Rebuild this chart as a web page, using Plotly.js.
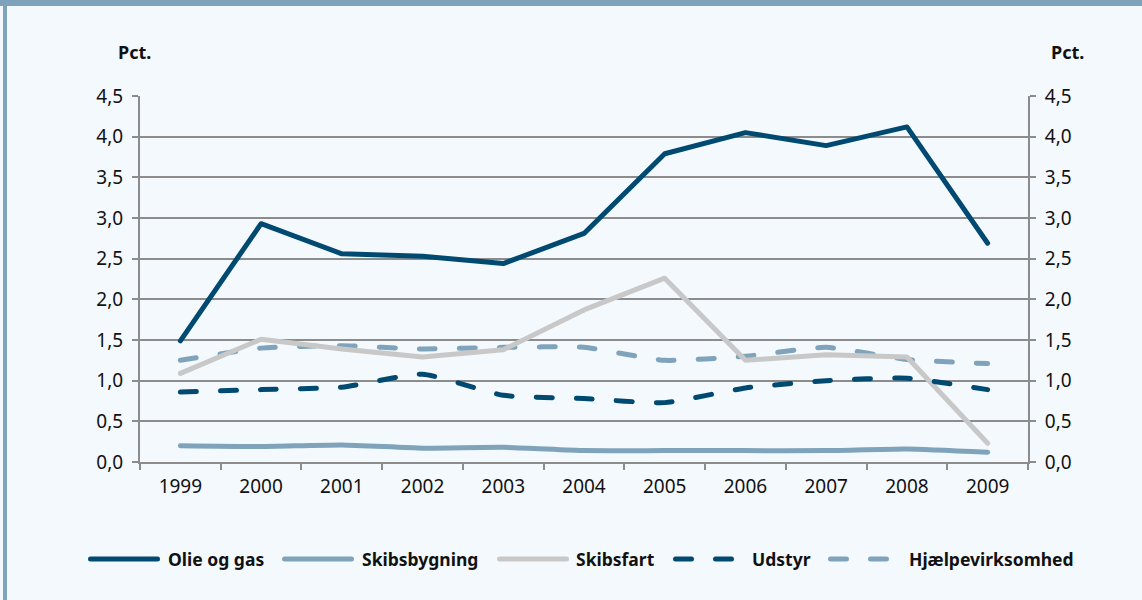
<!DOCTYPE html>
<html>
<head>
<meta charset="utf-8">
<script src="https://cdn.plot.ly/plotly-3.0.1.min.js"></script>
<style>
  html, body { margin: 0; padding: 0; background: #F4F9FD; }
  #chart { width: 1142px; height: 600px; }
  .js-line, .shapelayer path { stroke-linecap: round !important; stroke-linejoin: round !important; }
</style>
</head>
<body>
<div id="chart"></div>
<script>
// ---- data ----
const years = ["1999","2000","2001","2002","2003","2004","2005","2006","2007","2008","2009"];
const olieOgGas       = [1.49, 2.93, 2.56, 2.53, 2.44, 2.81, 3.79, 4.05, 3.89, 4.12, 2.69];
const skibsbygning    = [0.20, 0.19, 0.21, 0.17, 0.18, 0.14, 0.14, 0.14, 0.14, 0.16, 0.12];
const skibsfart       = [1.09, 1.51, 1.39, 1.29, 1.38, 1.87, 2.26, 1.25, 1.32, 1.29, 0.23];
const udstyr          = [0.86, 0.89, 0.92, 1.08, 0.82, 0.78, 0.73, 0.91, 1.00, 1.03, 0.89];
const hjaelpevirksomhed = [1.25, 1.40, 1.43, 1.39, 1.41, 1.41, 1.25, 1.30, 1.41, 1.26, 1.21];
const seriesNames = ["Olie og gas","Skibsbygning","Skibsfart","Udstyr","Hjælpevirksomhed"];
const yTicks = [0, 0.5, 1, 1.5, 2, 2.5, 3, 3.5, 4, 4.5];
const unitLabel = "Pct.";

// ---- styling ----
const DARK = "#004A72", LIGHT = "#7FA3BA", GREY = "#C8C8C8";
const AXIS = "#8C8C8C";
const BG = "#F4F9FD";
const FONT = "Noto Sans, Open Sans, sans-serif";
const L = 140, R = 1028, T = 96, B = 462;
const px = x => (x - L) / (R - L);
const py = y => (B - y) / (B - T);
const DASH = "16px,24px";

const styles = [
  {color: DARK,  dash: "solid", shape: "linear"},
  {color: LIGHT, dash: "solid", shape: "spline"},
  {color: GREY,  dash: "solid", shape: "linear"},
  {color: DARK,  dash: DASH,    shape: "spline"},
  {color: LIGHT, dash: DASH,    shape: "spline"}
];
const values = [olieOgGas, skibsbygning, skibsfart, udstyr, hjaelpevirksomhed];

// draw order: light first so dark lines on top
const order = [4, 2, 1, 3, 0];
const traces = order.map(i => ({
  type: "scatter", mode: "lines", x: years, y: values[i], name: seriesNames[i],
  line: {color: styles[i].color, width: 5, dash: styles[i].dash, shape: styles[i].shape, smoothing: 0.5},
  showlegend: false, hoverinfo: "x+y+name"
}));
traces.push({type: "scatter", mode: "lines", x: years, y: olieOgGas, yaxis: "y2",
  line: {color: "rgba(0,0,0,0)", width: 0}, showlegend: false, hoverinfo: "skip"});

// ---- custom legend ----
const legendY = py(559);
const legendItems = [
  {x0: 90.5, x1: 157.5, tx: 166},
  {x0: 284.5, x1: 351.5, tx: 360},
  {x0: 499.5, x1: 566.5, tx: 574},
  {x0: 675.5, x1: 732.5, tx: 750},
  {x0: 830.5, x1: 888.5, tx: 907}
];
const shapes = [
  // top bar and left strip
  {type: "rect", xref: "paper", yref: "paper", x0: px(0), x1: px(1142), y0: py(6), y1: py(0),
   fillcolor: LIGHT, line: {width: 0}, layer: "below"},
  {type: "rect", xref: "paper", yref: "paper", x0: px(3), x1: px(7), y0: py(600), y1: py(0),
   fillcolor: LIGHT, line: {width: 0}, layer: "below"}
];
const annotations = [
  {text: "<b>" + unitLabel + "</b>", xref: "paper", yref: "paper", x: px(134), y: py(52),
   xanchor: "center", yanchor: "middle",
   showarrow: false, font: {family: FONT, size: 18, color: "#111"}},
  {text: "<b>" + unitLabel + "</b>", xref: "paper", yref: "paper", x: px(1067), y: py(52),
   xanchor: "center", yanchor: "middle",
   showarrow: false, font: {family: FONT, size: 18, color: "#111"}}
];
legendItems.forEach((it, i) => {
  shapes.push({type: "line", xref: "paper", yref: "paper", x0: px(it.x0), x1: px(it.x1),
    y0: legendY, y1: legendY, line: {color: styles[i].color, width: 5, dash: styles[i].dash}});
  annotations.push({text: "<b>" + seriesNames[i] + "</b>", xref: "paper", yref: "paper",
    x: px(it.tx), y: legendY, xanchor: "left", yanchor: "middle", showarrow: false,
    font: {family: FONT, size: 17.5, color: "#111"}});
});

const yCommon = {
  range: [0, 4.5], tickvals: yTicks, tickformat: ".1f",
  ticks: "outside", ticklen: 6, tickwidth: 2, tickcolor: AXIS,
  showline: true, linecolor: AXIS, linewidth: 2,
  tickfont: {family: FONT, size: 19, color: "#111"},
  zeroline: false, fixedrange: true, ticklabelstandoff: 5
};

const layout = {
  width: 1142, height: 600,
  margin: {l: L, r: 1142 - R, t: T, b: 600 - B, pad: 0},
  paper_bgcolor: BG, plot_bgcolor: BG,
  separators: ", ",
  font: {family: FONT, color: "#111"},
  xaxis: {
    type: "category", categoryorder: "array", categoryarray: years,
    range: [-0.5, years.length - 0.5],
    tickson: "boundaries", ticks: "outside", ticklen: 6, tickwidth: 2, tickcolor: AXIS,
    showline: true, linecolor: AXIS, linewidth: 2, showgrid: false,
    tickfont: {family: FONT, size: 19, color: "#111"}, ticklabelstandoff: 6
  },
  yaxis: Object.assign({}, yCommon, {showgrid: true, gridcolor: AXIS, gridwidth: 2}),
  yaxis2: Object.assign({}, yCommon, {overlaying: "y", side: "right", showgrid: false}),
  shapes: shapes,
  annotations: annotations,
  showlegend: false
};

Plotly.newPlot("chart", traces, layout, {displayModeBar: false, staticPlot: true});
</script>
</body>
</html>
